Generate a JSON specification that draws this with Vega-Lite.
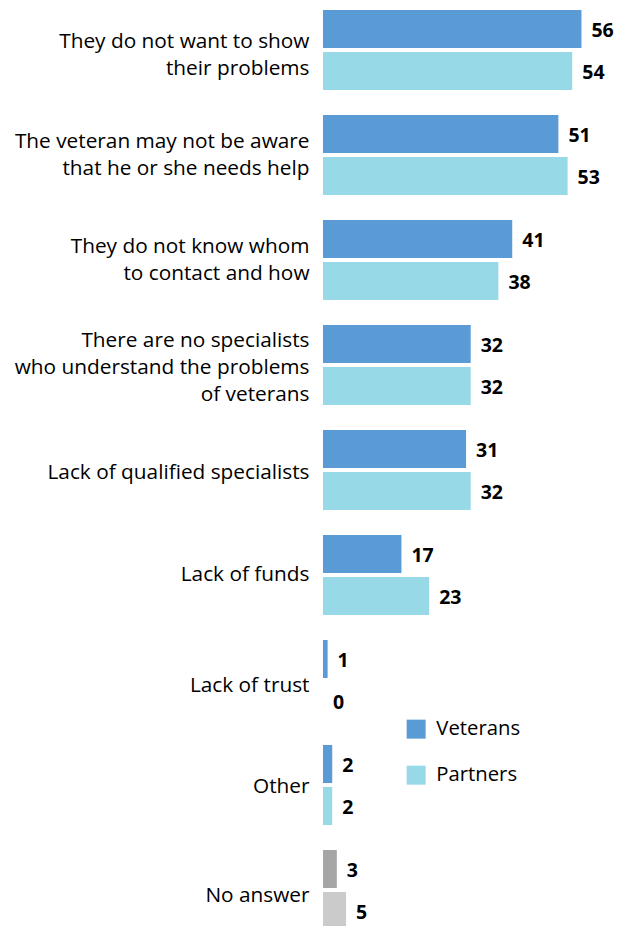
{
  "$schema": "https://vega.github.io/schema/vega-lite/v6.json",
  "autosize": {"type": "none"},
  "padding": {"left": 323, "top": 0, "right": 3, "bottom": 0},
  "width": 300,
  "height": 940,
  "background": "white",
  "config": {"view": {"stroke": null}, "font": "Open Sans"},
  "data": {
    "values": [
      {"category": "They do not want to show\ntheir problems", "series": "Veterans", "value": 56},
      {"category": "They do not want to show\ntheir problems", "series": "Partners", "value": 54},
      {"category": "The veteran may not be aware\nthat he or she needs help", "series": "Veterans", "value": 51},
      {"category": "The veteran may not be aware\nthat he or she needs help", "series": "Partners", "value": 53},
      {"category": "They do not know whom\nto contact and how", "series": "Veterans", "value": 41},
      {"category": "They do not know whom\nto contact and how", "series": "Partners", "value": 38},
      {"category": "There are no specialists\nwho understand the problems\nof veterans", "series": "Veterans", "value": 32},
      {"category": "There are no specialists\nwho understand the problems\nof veterans", "series": "Partners", "value": 32},
      {"category": "Lack of qualified specialists", "series": "Veterans", "value": 31},
      {"category": "Lack of qualified specialists", "series": "Partners", "value": 32},
      {"category": "Lack of funds", "series": "Veterans", "value": 17},
      {"category": "Lack of funds", "series": "Partners", "value": 23},
      {"category": "Lack of trust", "series": "Veterans", "value": 1},
      {"category": "Lack of trust", "series": "Partners", "value": 0},
      {"category": "Other", "series": "Veterans", "value": 2},
      {"category": "Other", "series": "Partners", "value": 2},
      {"category": "No answer", "series": "Veterans", "value": 3},
      {"category": "No answer", "series": "Partners", "value": 5}
    ]
  },
  "encoding": {
    "y": {
      "field": "category",
      "type": "nominal",
      "sort": null,
      "scale": {"paddingInner": 0.2381, "paddingOuter": 0.0952},
      "axis": {
        "title": null,
        "domain": false,
        "ticks": false,
        "labelPadding": 14,
        "labelAlign": "right",
        "labelBaseline": "middle",
        "labelFontSize": 20.8,
        "labelFont": "Open Sans",
        "labelColor": "#000000",
        "labelLimit": 400,
        "labelLineHeight": 26.8,
        "labelExpr": "split(datum.label, '\\n')",
        "labelOffset": {
          "condition": [
            {"test": "datum.value === 'They do not want to show\\ntheir problems'", "value": -8},
            {"test": "datum.value === 'The veteran may not be aware\\nthat he or she needs help'", "value": -13},
            {"test": "datum.value === 'They do not know whom\\nto contact and how'", "value": -13},
            {"test": "datum.value === 'There are no specialists\\nwho understand the problems\\nof veterans'", "value": -24},
            {"test": "datum.value === 'Lack of qualified specialists'", "value": 3},
            {"test": "datum.value === 'Lack of trust'", "value": 6},
            {"test": "datum.value === 'Other'", "value": 2},
            {"test": "datum.value === 'No answer'", "value": 6}
          ],
          "value": 0
        }
      }
    },
    "yOffset": {
      "field": "series",
      "type": "nominal",
      "scale": {"domain": ["Veterans", "Partners"], "paddingInner": 0.0952, "paddingOuter": 0}
    },
    "x": {
      "field": "value",
      "type": "quantitative",
      "scale": {"domain": [0, 65]},
      "axis": null
    }
  },
  "layer": [
    {
      "mark": {"type": "bar"},
      "encoding": {
        "color": {
          "condition": [
            {"test": "datum.category === 'No answer' && datum.series === 'Veterans'", "value": "#a5a6a5"},
            {"test": "datum.category === 'No answer' && datum.series === 'Partners'", "value": "#cbcbcb"}
          ],
          "field": "series",
          "type": "nominal",
          "scale": {"domain": ["Veterans", "Partners"], "range": ["#5b9bd5", "#97d9e6"]},
          "legend": {
            "title": null,
            "orient": "none",
            "legendX": 83,
            "legendY": 719,
            "direction": "vertical",
            "padding": 0,
            "symbolType": "square",
            "symbolSize": 361,
            "symbolStrokeWidth": 0,
            "symbolOpacity": 1,
            "labelFontSize": 20.3,
            "labelFont": "Open Sans",
            "labelColor": "#000000",
            "labelOffset": 10,
            "rowPadding": 25
          }
        }
      }
    },
    {
      "mark": {"type": "text", "align": "left", "baseline": "middle", "dx": 10, "dy": 2, "fontSize": 19.5, "fontWeight": "bold", "font": "Open Sans", "color": "#000000"},
      "encoding": {
        "text": {"field": "value", "type": "quantitative"}
      }
    }
  ]
}
